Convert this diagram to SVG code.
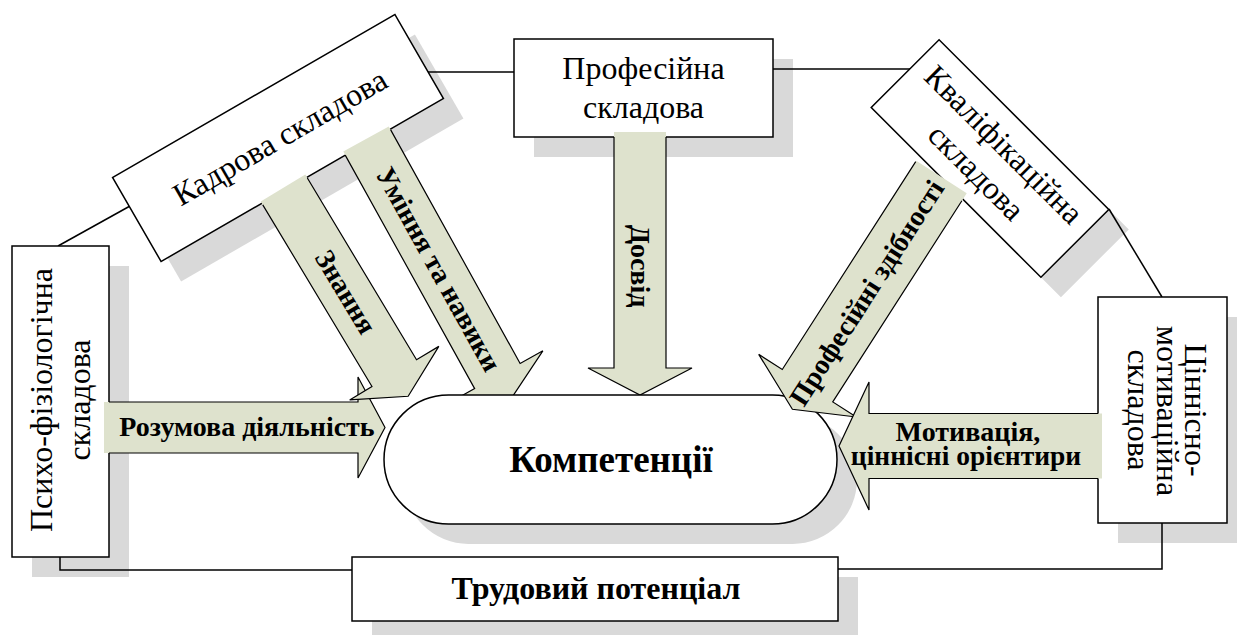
<svg xmlns="http://www.w3.org/2000/svg" width="1237" height="635" viewBox="0 0 1237 635">
  <style>
    .box { fill: #ffffff; stroke: #000000; stroke-width: 1.5; }
    .shadow { fill: #d9d9d9; }
    .af { fill: #dee2cd; }
    .ae { fill: none; stroke: #000000; stroke-width: 1.2; stroke-linejoin: miter; }
    .conn { fill: none; stroke: #000000; stroke-width: 1.5; }
    .t { font-family: "Liberation Serif", "Times New Roman", serif; font-size: 32px; text-anchor: middle; fill: #000000; }
    .b { font-weight: bold; font-size: 28px; }
  </style>

  <g id="shadows">
    <rect class="shadow" x="32" y="266" width="97" height="311"/>
    <rect class="shadow" x="534" y="59" width="259" height="98"/>
    <rect class="shadow" x="1118" y="317" width="129" height="226"/>
    <rect class="shadow" x="372" y="577" width="486" height="64"/>
    <rect class="shadow" x="-163" y="-48.5" width="326" height="97" transform="translate(298,158) rotate(-30)"/>
    <rect class="shadow" x="-120" y="-48" width="240" height="96" transform="translate(1010,178.5) rotate(45)"/>
    <rect class="shadow" x="404" y="415" width="453" height="129" rx="64.5" ry="64.5"/>
  </g>

  <g id="connectors">
    <line class="conn" x1="58" y1="246" x2="130" y2="206"/>
    <line class="conn" x1="428" y1="72" x2="514" y2="72"/>
    <line class="conn" x1="773" y1="69" x2="910" y2="69"/>
    <line class="conn" x1="1109" y1="209" x2="1162" y2="297"/>
    <polyline class="conn" points="1162,523 1162,569 838,569"/>
    <polyline class="conn" points="60,557 60,570 352,570"/>
  </g>

  <g id="node-kadrova" transform="translate(278,138) rotate(-30)">
    <rect class="box" x="-163" y="-48.5" width="326" height="97"/>
    <text class="t" x="2" y="11">Кадрова складова</text>
  </g>

  <g id="node-profesiina">
    <rect class="box" x="514" y="39" width="259" height="98"/>
    <text class="t" x="643.5" y="79">Професійна</text>
    <text class="t" x="643.5" y="118">складова</text>
  </g>

  <g id="node-kvalifikatsiina" transform="translate(990,158.5) rotate(45)">
    <rect class="box" x="-120" y="-48" width="240" height="96"/>
    <text class="t" x="0" y="-9">Кваліфікаційна</text>
    <text class="t" x="0" y="30">складова</text>
  </g>

  <g id="node-psykho">
    <rect class="box" x="12" y="246" width="97" height="311"/>
    <text class="t" transform="translate(52,400) rotate(-90)">Психо-фізіологічна</text>
    <text class="t" transform="translate(90,400) rotate(-90)">складова</text>
  </g>

  <g id="node-tsinnisno">
    <rect class="box" x="1098" y="297" width="129" height="226"/>
    <text class="t" transform="translate(1185,410) rotate(90)">Ціннісно-</text>
    <text class="t" transform="translate(1157,411) rotate(90)">мотиваційна</text>
    <text class="t" transform="translate(1128,410) rotate(90)">складова</text>
  </g>

  <g id="node-trudovyi">
    <rect class="box" x="352" y="557" width="486" height="64"/>
    <text class="t b" style="font-size:32px" x="596" y="599">Трудовий потенціал</text>
  </g>

  <g id="arrow-rozumova">
    <g transform="translate(104,427.5) rotate(-90)">
      <path class="af" d="M-25.5,0 H25.5 V254 H50.5 L0,281 L-50.5,254 H-25.5 Z"/>
      <path class="ae" d="M25.5,5 V254 H50.5 L0,281 L-50.5,254 H-25.5 V5"/>
    </g>
    <text class="t b" x="247" y="436">Розумова діяльність</text>
  </g>

  <g id="arrow-znannia" transform="translate(283,188) rotate(-31)">
    <path class="af" d="M-26,0 H26 V216 H52 L0,243 L-52,216 H-26 Z"/>
    <path class="ae" d="M26,4 V216 H52 L0,243 L-52,216 H-26 V4"/>
    <text class="t b" transform="translate(0,121.5) rotate(90)" y="9">Знання</text>
  </g>

  <g id="arrow-uminnia" transform="translate(366,139) rotate(-29)">
    <path class="af" d="M-26,0 H26 V271 H52 L0,298 L-52,271 H-26 Z"/>
    <path class="ae" d="M26,4 V271 H52 L0,298 L-52,271 H-26 V4"/>
    <text class="t b" transform="translate(0,149) rotate(90)" y="9">Уміння та навики</text>
  </g>

  <g id="arrow-dosvid" transform="translate(640,132)">
    <path class="af" d="M-26,0 H26 V236 H52 L0,263 L-52,236 H-26 Z"/>
    <path class="ae" d="M26,5 V236 H52 L0,263 L-52,236 H-26 V5"/>
    <text class="t b" transform="translate(0,134) rotate(90)" y="9">Досвід</text>
  </g>

  <g id="node-kompetentsii">
    <rect class="box" x="384" y="395" width="453" height="129" rx="64.5" ry="64.5"/>
    <text class="t b" style="font-size:37px" x="611" y="472">Компетенції</text>
  </g>

  <g id="arrow-profesiini" transform="translate(941.5,177) rotate(32.7)">
    <path class="af" d="M-30,0 H30 V248 H58 L0,276 L-58,248 H-30 Z"/>
    <path class="ae" d="M30,9 V248 H58 L0,276 L-58,248 H-30 V1"/>
    <text class="t b" transform="translate(0,138) rotate(-90)" y="9">Професійні здібності</text>
  </g>

  <g id="arrow-motyvatsiia">
    <g transform="translate(1102,446) rotate(90)">
      <path class="af" d="M-32.5,0 H32.5 V233 H64 L0,263 L-64,233 H-32.5 Z"/>
      <path class="ae" d="M32.5,4 V233 H64 L0,263 L-64,233 H-32.5 V4"/>
    </g>
    <text class="t b" x="968" y="441">Мотивація,</text>
    <text class="t b" style="font-size:27.5px" x="966" y="465">ціннісні орієнтири</text>
  </g>
</svg>
